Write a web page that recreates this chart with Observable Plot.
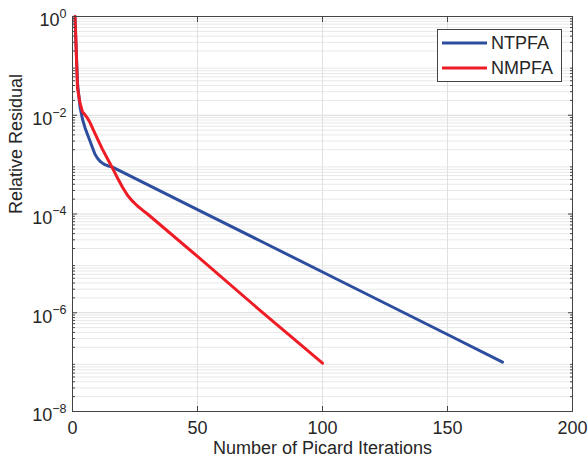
<!DOCTYPE html>
<html><head><meta charset="utf-8">
<script src="https://cdn.jsdelivr.net/npm/d3@7"></script>
<script src="https://cdn.jsdelivr.net/npm/@observablehq/plot@0.6"></script>
<style>body{margin:0;background:#fff;} #chart{width:588px;height:465px;}</style>
</head><body><div id="chart"></div>
<script>
const ntpfaIter = [1,2,3,4,5,6,7,8,9,10,11,12,13,14,16,22,36,51,76,105,150,172];
const ntpfaRes = [1,4.47e-2,1.48e-2,8.3e-3,5.6e-3,4.07e-3,3.0e-3,2.19e-3,1.62e-3,1.35e-3,1.17e-3,1.07e-3,1.0e-3,9.5e-4,8.9e-4,6.3e-4,2.78e-4,1.16e-4,2.71e-5,5.0e-6,3.63e-7,1.0e-7];
const nmpfaIter = [1,2,3,4,5,6,7,8,10,12,14,16,18,20,22,24,26,28,30,50,75,100];
const nmpfaRes = [1,3.55e-2,1.78e-2,1.17e-2,1.02e-2,8.7e-3,7.1e-3,5.5e-3,3.31e-3,2.04e-3,1.32e-3,8.5e-4,5.37e-4,3.47e-4,2.4e-4,1.82e-4,1.45e-4,1.2e-4,1.0e-4,1.38e-5,1.12e-6,9.5e-8];
const seriesNames = ["NTPFA","NMPFA"];
const seriesColors = ["#2D4E9F","#EE1C25"];
const xTicks = [0,50,100,150,200];
const yTicks = [1e0,1e-2,1e-4,1e-6,1e-8];
const yTickExp = ["0","\u22122","\u22124","\u22126","\u22128"];
const yTickBase = "10";
const xTitle = "Number of Picard Iterations";
const yTitle = "Relative Residual";

const rows = [
  ...ntpfaIter.map((x,i)=>({x, y: ntpfaRes[i], s: seriesNames[0]})),
  ...nmpfaIter.map((x,i)=>({x, y: nmpfaRes[i], s: seriesNames[1]}))
];
const yMinor = [];
for (let k=-8;k<0;k++) for (let m=2;m<=9;m++) yMinor.push(m*Math.pow(10,k));
const xInner = xTicks.slice(1,-1);
const blank = () => "";
const axisColor = "#444";
const textColor = "#262626";

const plot = Plot.plot({
  width: 588, height: 465,
  marginLeft: 72, marginRight: 16, marginTop: 16, marginBottom: 54,
  style: {fontFamily: "'Liberation Sans', Arial, sans-serif", fontSize: "18px", color: textColor, background: "#fff"},
  x: {domain: [0,200], label: null},
  y: {type: "log", domain: [1e-8, 1], label: null},
  color: {domain: seriesNames, range: seriesColors},
  marks: [
    Plot.ruleY(yMinor, {stroke: "#e8e8e8", strokeWidth: 1}),
    Plot.ruleY(yTicks, {stroke: "#dadada", strokeWidth: 1}),
    Plot.ruleX(xInner, {stroke: "#e0e0e0", strokeWidth: 1}),
    Plot.line(rows, {x: "x", y: "y", z: "s", stroke: "s", strokeWidth: 3, strokeLinejoin: "round"}),
    Plot.axisX({anchor: "bottom", ticks: xTicks, tickSize: 0, tickPadding: 10, label: null, fontSize: 18}),
    Plot.axisX({anchor: "bottom", ticks: xInner, tickSize: -5, tickFormat: blank, label: null, stroke: axisColor}),
    Plot.axisX({anchor: "top", ticks: xInner, tickSize: -5, tickFormat: blank, label: null, stroke: axisColor}),
    Plot.axisY({anchor: "left", ticks: yTicks, tickSize: 0, tickPadding: 6, dy: 4, label: null, fontSize: 18,
      tickFormat: d => yTickBase + "|" + yTickExp[yTicks.indexOf(d)]}),
    Plot.axisY({anchor: "left", ticks: yTicks, tickSize: -5, tickFormat: blank, label: null, stroke: axisColor}),
    Plot.axisY({anchor: "right", ticks: yTicks, tickSize: -5, tickFormat: blank, label: null, stroke: axisColor}),
    Plot.axisY({anchor: "left", ticks: yMinor, tickSize: -3, tickFormat: blank, label: null, stroke: axisColor}),
    Plot.axisY({anchor: "right", ticks: yMinor, tickSize: -3, tickFormat: blank, label: null, stroke: axisColor}),
    Plot.frame({stroke: axisColor}),
    Plot.text([xTitle], {frameAnchor: "bottom", dy: 42, fontSize: 18, fill: textColor}),
    Plot.text([yTitle], {frameAnchor: "left", dx: -56, rotate: -90, fontSize: 18, fill: textColor})
  ]
});

const svg = d3.select(plot);
svg.selectAll('g[aria-label="y-axis tick label"] text').each(function(){
  const parts = this.textContent.split("|");
  const sel = d3.select(this);
  sel.text(null);
  sel.append("tspan").text(parts[0]);
  sel.append("tspan").attr("dy", -8.5).attr("font-size", 12.5).text(parts[1]);
});

const lg = svg.append("g").attr("font-family", "'Liberation Sans', Arial, sans-serif").attr("font-size", 18);
lg.append("rect").attr("x", 437.5).attr("y", 29.5).attr("width", 124).attr("height", 52)
  .attr("fill", "#fff").attr("stroke", axisColor);
seriesNames.forEach((n, i) => {
  const yy = 43 + i * 25;
  lg.append("line").attr("x1", 442).attr("x2", 487).attr("y1", yy).attr("y2", yy)
    .attr("stroke", seriesColors[i]).attr("stroke-width", 3);
  lg.append("text").attr("x", 491).attr("y", yy).attr("dy", "0.35em")
    .attr("text-anchor", "start").attr("fill", textColor).text(n);
});

document.getElementById("chart").appendChild(plot);
</script></body></html>
